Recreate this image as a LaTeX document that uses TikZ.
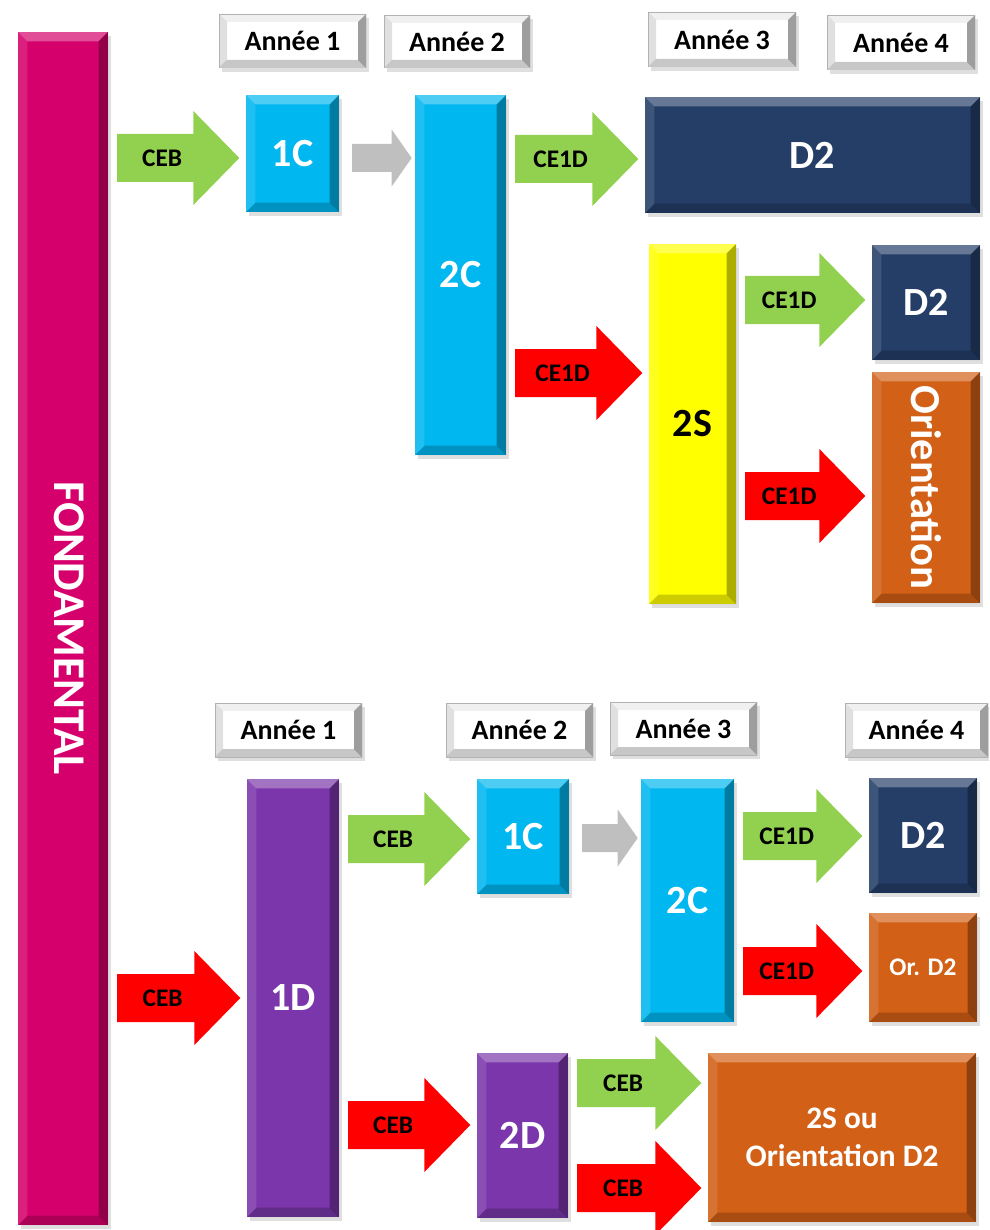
\documentclass[tikz,border=0pt]{standalone}
\usepackage{fontspec}
\setmainfont{Carlito}
\usetikzlibrary{calc,shadows}
\definecolor{fmag}{RGB}{214,0,108}
\definecolor{fcyan}{RGB}{0,183,240}
\definecolor{fnavy}{RGB}{36,62,104}
\definecolor{fyel}{RGB}{255,255,0}
\definecolor{forange}{RGB}{210,96,22}
\definecolor{fpurp}{RGB}{122,54,170}
\definecolor{fgreen}{RGB}{146,208,80}
\definecolor{fred}{RGB}{255,0,0}
\definecolor{fgray}{RGB}{191,191,191}
\tikzset{
  sz/.style 2 args={minimum width=#1*0.75pt, minimum height=#2*0.75pt},
  bevel/.style={path picture={
    \path (path picture bounding box.north west) coordinate (bNW)
          (path picture bounding box.north east) coordinate (bNE)
          (path picture bounding box.south east) coordinate (bSE)
          (path picture bounding box.south west) coordinate (bSW);
    \fill[white,opacity=0.30] (bNW) -- (bNE) -- ([shift={(-7pt,-7pt)}]bNE) -- ([shift={(7pt,-7pt)}]bNW) -- cycle;
    \fill[black,opacity=0.32] (bNE) -- (bSE) -- ([shift={(-7pt,7pt)}]bSE) -- ([shift={(-7pt,-7pt)}]bNE) -- cycle;
    \fill[black,opacity=0.20] (bSE) -- (bSW) -- ([shift={(7pt,7pt)}]bSW) -- ([shift={(-7pt,7pt)}]bSE) -- cycle;
    \fill[white,opacity=0.12] (bSW) -- (bNW) -- ([shift={(7pt,-7pt)}]bNW) -- ([shift={(7pt,7pt)}]bSW) -- cycle;
  }},
  hbevel/.style={path picture={
    \path (path picture bounding box.north west) coordinate (bNW)
          (path picture bounding box.north east) coordinate (bNE)
          (path picture bounding box.south east) coordinate (bSE)
          (path picture bounding box.south west) coordinate (bSW);
    \fill[black,opacity=0.06] (bNW) -- (bNE) -- ([shift={(-6pt,-6pt)}]bNE) -- ([shift={(6pt,-6pt)}]bNW) -- cycle;
    \fill[black,opacity=0.38] (bNE) -- (bSE) -- ([shift={(-6pt,6pt)}]bSE) -- ([shift={(-6pt,-6pt)}]bNE) -- cycle;
    \fill[black,opacity=0.22] (bSE) -- (bSW) -- ([shift={(6pt,6pt)}]bSW) -- ([shift={(-6pt,6pt)}]bSE) -- cycle;
    \fill[black,opacity=0.12] (bSW) -- (bNW) -- ([shift={(6pt,-6pt)}]bNW) -- ([shift={(6pt,6pt)}]bSW) -- cycle;
    \draw[black!30,line width=0.5pt] (bNW) rectangle (bSE);
  }},
  shadowed/.style={drop shadow={opacity=0.25, shadow xshift=2pt, shadow yshift=-3pt}},
  box/.style={rectangle, inner sep=0pt, outer sep=0pt, anchor=north west, align=center,
    text=white, font=\bfseries\fontsize{30}{30}\selectfont, shadowed, bevel},
  hdr/.style={rectangle, inner sep=0pt, outer sep=0pt, anchor=north west, fill=white,
    text=black, font=\bfseries\fontsize{21}{21}\selectfont, shadowed, hbevel},
  alabel/.style={inner sep=0pt, text=black, font=\bfseries\fontsize{19}{19}\selectfont},
}
\newcommand{\blockarrow}[6]{%
  \coordinate (#1s) at ($(#2.east |- 0,#4)+(6.75pt,0)$);
  \coordinate (#1t) at ($(#3.west |- 0,#4)+(-5pt,0)$);
  \fill[#5] let \p1=(#1s), \p2=(#1t) in
    (\x1,\y1+18pt) -- (\x2-34.5pt,\y1+18pt) -- (\x2-34.5pt,\y1+35.25pt) -- (\x2,\y1)
    -- (\x2-34.5pt,\y1-35.25pt) -- (\x2-34.5pt,\y1-18pt) -- (\x1,\y1-18pt) -- cycle;
  \path let \p1=(#1s), \p2=(#1t) in node[alabel] (#1) at (\x1/2+\x2/2-12pt,\y1) {#6};
}
\newcommand{\grayarrow}[4]{%
  \coordinate (#1s) at ($(#2.east |- 0,#4)+(9.75pt,0)$);
  \coordinate (#1t) at ($(#3.west |- 0,#4)+(-2.5pt,0)$);
  \fill[fgray] let \p1=(#1s), \p2=(#1t) in
    (\x1,\y1+10.5pt) -- (\x2-15pt,\y1+10.5pt) -- (\x2-15pt,\y1+21.4pt) -- (\x2,\y1)
    -- (\x2-15pt,\y1-21.4pt) -- (\x2-15pt,\y1-10.5pt) -- (\x1,\y1-10.5pt) -- cycle;
}
\begin{document}
\begin{tikzpicture}[x=0.75pt,y=-0.75pt]
\useasboundingbox (0,0) rectangle (989,1230);
\clip (0,0) rectangle (989,1230);
% left bar
\node[box,fill=fmag,sz={90}{1193}] (fond) at (18,32) {\rotatebox{-90}{\fontsize{34}{34}\selectfont\rule[-10pt]{0pt}{0pt}FONDAMENTAL}};
% top headers
\node[hdr,sz={147}{54}] (h1) at (219,14) {Année 1};
\node[hdr,sz={146}{53}] (h2) at (384,15) {Année 2};
\node[hdr,sz={148}{55}] (h3) at (648,12) {Année 3};
\node[hdr,sz={148}{55}] (h4) at (827,15) {Année 4};
% bottom headers
\node[hdr,sz={147}{54}] (h5) at (215,703) {Année 1};
\node[hdr,sz={147}{54}] (h6) at (446,703) {Année 2};
\node[hdr,sz={147}{53}] (h7) at (610,702) {Année 3};
\node[hdr,sz={143}{54}] (h8) at (845,703) {Année 4};
% top blocks
\node[box,fill=fcyan,sz={93}{117}] (c1) at (246,95) {1C};
\node[box,fill=fcyan,sz={91}{360}] (c2) at (415,95) {2C};
\node[box,fill=fnavy,sz={335}{116}] (d2a) at (645,97) {D2};
\node[box,fill=fyel,text=black,sz={87}{360}] (s2) at (649,244) {2S};
\node[box,fill=fnavy,sz={108}{115}] (d2b) at (872,245) {D2};
\node[box,fill=forange,sz={108}{231}] (ori) at (872,372) {\rotatebox{-90}{\fontsize{32}{32}\selectfont Orientation}};
% bottom blocks
\node[box,fill=fpurp,sz={92}{438}] (d1) at (247,779) {1D};
\node[box,fill=fcyan,sz={92}{115}] (c1b) at (477,779) {1C};
\node[box,fill=fcyan,sz={93}{243}] (c2b) at (641,779) {2C};
\node[box,fill=fnavy,sz={108}{115}] (d2c) at (869,778) {D2};
\node[box,fill=forange,sz={108}{109},font=\bfseries\fontsize{19}{19}\selectfont] (ord2) at (869,913) {Or. D2};
\node[box,fill=fpurp,sz={91}{165}] (d2d) at (477,1053) {2D};
\node[box,fill=forange,sz={268}{169},font=\bfseries\fontsize{23.5}{28.5}\selectfont] (fin) at (708,1053) {2S ou\\Orientation D2};
% arrows top
\blockarrow{a1}{fond}{c1}{158}{fgreen}{CEB}
\grayarrow{g1}{c1}{c2}{158}
\blockarrow{a2}{c2}{d2a}{159}{fgreen}{CE1D}
\blockarrow{a3}{c2}{s2}{373}{fred}{CE1D}
\blockarrow{a4}{s2}{d2b}{300}{fgreen}{CE1D}
\blockarrow{a5}{s2}{ori}{496}{fred}{CE1D}
% arrows bottom
\blockarrow{a6}{fond}{d1}{998}{fred}{CEB}
\blockarrow{a7}{d1}{c1b}{839}{fgreen}{CEB}
\grayarrow{g2}{c1b}{c2b}{838}
\blockarrow{a8}{c2b}{d2c}{836}{fgreen}{CE1D}
\blockarrow{a9}{c2b}{ord2}{971}{fred}{CE1D}
\blockarrow{a10}{d1}{d2d}{1125}{fred}{CEB}
\blockarrow{a11}{d2d}{fin}{1083}{fgreen}{CEB}
\blockarrow{a12}{d2d}{fin}{1188}{fred}{CEB}
\end{tikzpicture}
\end{document}
